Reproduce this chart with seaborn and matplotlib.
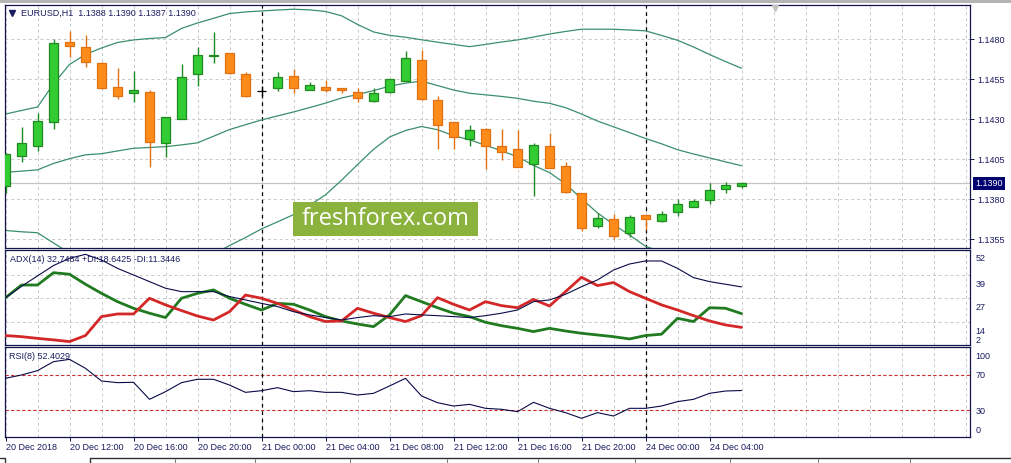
import numpy as np
import pandas as pd
import matplotlib
matplotlib.use("Agg")
import matplotlib.pyplot as plt
from matplotlib.lines import Line2D
from matplotlib.patches import Rectangle
import seaborn as sns

# ---------------- data (EURUSD H1, 20 Dec 08:00 -> 24 Dec 06:00) ----------------
open_ = [1.13885, 1.14068, 1.14135, 1.14281, 1.14781, 1.14750, 1.14650, 1.14500, 1.14463, 1.14469,
         1.14150, 1.14300, 1.14581, 1.14696, 1.14713, 1.14581, 1.14480, 1.14494, 1.14571, 1.14483,
         1.14500, 1.14494, 1.14469, 1.14416, 1.14469, 1.14541, 1.14671, 1.14421, 1.14281, 1.14177,
         1.14238, 1.14133, 1.14114, 1.14019, 1.14133, 1.14010, 1.13838, 1.13635, 1.13675, 1.13588,
         1.13702, 1.13666, 1.13719, 1.13754, 1.13798, 1.13866, 1.13880]
high = [1.14090, 1.14254, 1.14338, 1.14802, 1.14852, 1.14827, 1.14660, 1.14619, 1.14602, 1.14483,
        1.14316, 1.14646, 1.14750, 1.14844, 1.14713, 1.14598, 1.14510, 1.14594, 1.14613, 1.14531,
        1.14546, 1.14497, 1.14494, 1.14494, 1.14550, 1.14727, 1.14733, 1.14448, 1.14281, 1.14264,
        1.14248, 1.14238, 1.14233, 1.14150, 1.14216, 1.14035, 1.13838, 1.13713, 1.13706, 1.13702,
        1.13702, 1.13727, 1.13802, 1.13802, 1.13900, 1.13906, 1.13900]
low = [1.13839, 1.14035, 1.14102, 1.14238, 1.14691, 1.14629, 1.14490, 1.14427, 1.14406, 1.14004,
       1.14066, 1.14300, 1.14510, 1.14650, 1.14581, 1.14441, 1.14446, 1.14479, 1.14466, 1.14483,
       1.14469, 1.14463, 1.14410, 1.14410, 1.14463, 1.14541, 1.14421, 1.14113, 1.14114, 1.14135,
       1.13988, 1.14046, 1.14004, 1.13821, 1.13994, 1.13838, 1.13602, 1.13623, 1.13550, 1.13563,
       1.13608, 1.13656, 1.13698, 1.13754, 1.13769, 1.13838, 1.13870]
close = [1.14083, 1.14150, 1.14289, 1.14775, 1.14760, 1.14660, 1.14494, 1.14448, 1.14483, 1.14160,
         1.14313, 1.14566, 1.14702, 1.14700, 1.14591, 1.14448, 1.14480, 1.14563, 1.14494, 1.14514,
         1.14481, 1.14481, 1.14431, 1.14463, 1.14550, 1.14681, 1.14427, 1.14264, 1.14188, 1.14233,
         1.14135, 1.14098, 1.14004, 1.14139, 1.13998, 1.13848, 1.13623, 1.13685, 1.13573, 1.13688,
         1.13675, 1.13706, 1.13769, 1.13789, 1.13856, 1.13888, 1.13900]

bb_upper = [1.14333, 1.14355, 1.14377, 1.14521, 1.14643, 1.14705, 1.14746, 1.14780, 1.14796, 1.14805,
            1.14811, 1.14868, 1.14902, 1.14931, 1.14961, 1.14971, 1.14977, 1.14983, 1.14988, 1.14984,
            1.14974, 1.14947, 1.14893, 1.14846, 1.14825, 1.14813, 1.14797, 1.14782, 1.14768, 1.14754,
            1.14768, 1.14783, 1.14796, 1.14814, 1.14833, 1.14849, 1.14863, 1.14863, 1.14863, 1.14858,
            1.14853, 1.14824, 1.14794, 1.14752, 1.14705, 1.14661, 1.14619]
bb_mid = [1.13969, 1.13976, 1.13984, 1.14024, 1.14054, 1.14078, 1.14085, 1.14102, 1.14119, 1.14124,
          1.14129, 1.14140, 1.14153, 1.14194, 1.14236, 1.14266, 1.14296, 1.14321, 1.14346, 1.14373,
          1.14401, 1.14433, 1.14455, 1.14479, 1.14507, 1.14526, 1.14539, 1.14511, 1.14483, 1.14463,
          1.14453, 1.14443, 1.14431, 1.14413, 1.14400, 1.14373, 1.14333, 1.14289, 1.14253, 1.14217,
          1.14180, 1.14147, 1.14110, 1.14083, 1.14059, 1.14034, 1.14010]
bb_lower = [1.13605, 1.13597, 1.13591, 1.13527, 1.13465, 1.13451, 1.13424, 1.13424, 1.13442, 1.13443,
            1.13447, 1.13412, 1.13404, 1.13457, 1.13511, 1.13561, 1.13615, 1.13659, 1.13704, 1.13762,
            1.13828, 1.13919, 1.14017, 1.14112, 1.14189, 1.14230, 1.14255, 1.14235, 1.14198, 1.14172,
            1.14138, 1.14103, 1.14066, 1.14012, 1.13967, 1.13897, 1.13803, 1.13715, 1.13643, 1.13576,
            1.13507, 1.13470, 1.13426, 1.13414, 1.13413, 1.13407, 1.13401]

adx = [27.0, 33.0, 38.5, 44.0, 47.8, 49.9, 46.9, 42.5, 39.0, 35.5,
       32.0, 30.2, 30.2, 30.2, 27.6, 25.8, 24.0, 22.3, 19.6, 17.9,
       16.5, 15.2, 16.5, 17.5, 17.0, 18.4, 17.9, 17.5, 17.0, 16.5,
       17.5, 18.8, 20.5, 24.9, 25.8, 28.8, 32.8, 36.4, 41.6, 44.8,
       46.4, 46.4, 42.5, 37.6, 35.5, 34.1, 32.7]
plus_di = [27.0, 33.7, 33.7, 40.2, 39.4, 34.1, 29.3, 24.9, 21.4, 18.8,
           16.5, 26.7, 29.3, 31.1, 26.7, 23.5, 20.5, 24.0, 23.5, 20.5,
           17.0, 14.7, 13.1, 11.7, 17.9, 28.1, 24.9, 21.7, 18.8, 17.0,
           14.0, 12.2, 10.8, 9.1, 10.8, 9.4, 8.2, 7.3, 6.4, 5.2,
           7.0, 7.7, 16.1, 14.4, 21.7, 21.4, 18.6]
minus_di = [7.0, 6.4, 5.5, 4.7, 3.8, 7.0, 17.0, 18.4, 18.4, 26.7,
            23.2, 20.2, 17.3, 15.2, 19.6, 28.4, 26.7, 24.0, 20.5, 17.0,
            14.4, 14.7, 21.4, 18.8, 16.5, 14.4, 17.5, 27.0, 23.5, 20.5,
            24.9, 22.8, 21.7, 26.1, 22.6, 30.2, 37.8, 33.4, 35.0, 30.2,
            26.7, 23.2, 20.5, 17.5, 14.7, 12.6, 11.3]
rsi = [66.2, 70.0, 74.9, 85.1, 87.7, 77.5, 63.2, 61.3, 61.7, 42.4,
       51.1, 61.3, 65.1, 65.1, 58.6, 50.3, 52.2, 55.6, 51.1, 52.2,
       50.3, 50.3, 47.3, 49.2, 57.5, 66.2, 46.2, 38.6, 34.8, 36.7,
       32.2, 31.1, 28.4, 39.0, 32.2, 27.3, 20.9, 27.3, 23.5, 32.2,
       32.2, 34.8, 39.8, 42.4, 49.2, 51.8, 52.4]

tick_labels = ["20 Dec 2018", "20 Dec 12:00", "20 Dec 16:00", "20 Dec 20:00", "21 Dec 00:00",
               "21 Dec 04:00", "21 Dec 08:00", "21 Dec 12:00", "21 Dec 16:00", "21 Dec 20:00",
               "24 Dec 00:00", "24 Dec 04:00"]
tick_bars = [0, 4, 8, 12, 16, 20, 24, 28, 32, 36, 40, 44]
day_start_bars = [16, 40]
price_levels = [1.1355, 1.1380, 1.1405, 1.1430, 1.1455, 1.1480]
last_price = 1.1390
adx_grid = [14, 27, 39]
adx_tick_pos = [48.1, 34.4, 22.2, 9.9, 4.65]
adx_tick_lab = ["52", "39", "27", "14", "2"]
rsi_levels = [70, 30]
rsi_tick_pos = [92.6, 70, 30, 8.4]
rsi_tick_lab = ["100", "70", "30", "0"]

# ---------------- style ----------------
sns.set_theme(style="white")
plt.rcParams["font.family"] = ["Liberation Sans", "DejaVu Sans"]
TXT = "#1b1b62"
SPINE = "#14144a"
GRID = "#c8c8c8"
BULL_F, BULL_E = "#33cc33", "#1f8a1f"
BEAR_F, BEAR_E = "#ff8c1a", "#e07010"
BB = "#3a8f6a"
FS = 6.5

W, H = 1011, 463
fig = plt.figure(figsize=(W / 100, H / 100), dpi=100, facecolor="white")


def fbox(l, t, r, b):
    return [l / W, 1 - b / H, (r - l) / W, (b - t) / H]


ax_p = fig.add_axes(fbox(4.5, 5, 970, 248))
ax_a = fig.add_axes(fbox(4.5, 250, 970, 345))
ax_r = fig.add_axes(fbox(4.5, 347, 970, 437))

n = len(open_)
bars = np.arange(n)
o, h, l, c = map(np.asarray, (open_, high, low, close))
XL = (-0.0625, 60.28)

for ax in (ax_p, ax_a, ax_r):
    ax.set_facecolor("white")
    for s in ax.spines.values():
        s.set_color(SPINE)
        s.set_linewidth(0.9)
    for g in range(0, 61, 2):
        ax.axvline(g, color=GRID, lw=0.7, ls=(0, (3, 3)), zorder=0)
    for b in day_start_bars:
        ax.axvline(b, color="black", lw=0.9, ls=(0, (3, 3)), zorder=1.5)

# ---------------- price panel ----------------
for v in price_levels:
    ax_p.axhline(v, color=GRID, lw=0.7, ls=(0, (3, 3)), zorder=0)
ax_p.axhline(last_price, color="#c4c4c4", lw=0.9, zorder=0.5)

bb_df = pd.DataFrame({"bar": bars, "upper": bb_upper, "mid": bb_mid, "lower": bb_lower})
for col in ("upper", "mid", "lower"):
    sns.lineplot(data=bb_df, x="bar", y=col, ax=ax_p, color=BB, lw=0.9, legend=False, zorder=2)

fills, edges, wicks = [], [], []
for oo, cc in zip(o, c):
    if cc > oo:
        fills.append(BULL_F); edges.append(BULL_E); wicks.append(BULL_E)
    elif cc < oo:
        fills.append(BEAR_F); edges.append(BEAR_E); wicks.append(BEAR_E)
    else:
        fills.append("black"); edges.append("black"); wicks.append("black")
ax_p.vlines(bars, l, h, colors=wicks, lw=1.0, zorder=3)
ax_p.bar(bars, c - o, bottom=o, width=0.62, color=fills, edgecolor=edges, linewidth=0.9, zorder=4)

ax_p.set_xlim(*XL)
ax_p.set_ylim(1.134956, 1.150144)
ax_p.yaxis.tick_right()
ax_p.set_yticks(price_levels)
ax_p.set_yticklabels([f"{v:.4f}" for v in price_levels])
ax_p.tick_params(axis="y", right=True, left=False, length=3, width=0.7, color=SPINE,
                 labelcolor=TXT, labelsize=FS, pad=2)
ax_p.tick_params(axis="x", bottom=False, labelbottom=False)
ax_p.set_xlabel(""); ax_p.set_ylabel("")

# current price box
ax_p.text(1.0055, last_price, f"{last_price:.4f}", transform=ax_p.get_yaxis_transform(),
          ha="left", va="center", color="white", fontsize=FS, clip_on=False, zorder=10,
          bbox=dict(boxstyle="square,pad=0.22", fc="#00006e", ec="none"))

ax_p.text(0.0168, 0.965, "EURUSD,H1  1.1388 1.1390 1.1387 1.1390", transform=ax_p.transAxes,
          ha="left", va="center", color=TXT, fontsize=FS, zorder=10)
ax_p.plot([0.0078], [0.966], marker="v", ms=4, color=TXT, transform=ax_p.transAxes,
          clip_on=False, zorder=10)

# watermark
ax_p.add_patch(Rectangle((0.2988, 0.0494), 0.1916, 0.1399, transform=ax_p.transAxes,
                         fc="#8cb23e", ec="none", zorder=9, clip_on=False))
ax_p.text(0.3946, 0.118, "freshforex.com", transform=ax_p.transAxes, ha="center", va="center",
          color="white", fontsize=17, family=["Open Sans", "DejaVu Sans"], zorder=10)

# ---------------- ADX panel ----------------
for v in adx_grid:
    ax_a.axhline(v, color=GRID, lw=0.7, ls=(0, (3, 3)), zorder=0)
adx_df = pd.DataFrame({"bar": bars, "adx": adx, "plus": plus_di, "minus": minus_di})
sns.lineplot(data=adx_df, x="bar", y="plus", ax=ax_a, color="#207a20", lw=2.0, legend=False, zorder=3)
sns.lineplot(data=adx_df, x="bar", y="minus", ax=ax_a, color="#d42828", lw=2.0, legend=False, zorder=3)
sns.lineplot(data=adx_df, x="bar", y="adx", ax=ax_a, color="#0a0a4a", lw=0.8, legend=False, zorder=4)
ax_a.set_xlim(*XL)
ax_a.set_ylim(2.0, 52.2)
ax_a.yaxis.tick_right()
ax_a.set_yticks(adx_tick_pos)
ax_a.set_yticklabels(adx_tick_lab)
ax_a.tick_params(axis="y", right=True, left=False, length=0, labelcolor=TXT, labelsize=FS, pad=4)
ax_a.tick_params(axis="x", bottom=False, labelbottom=False)
ax_a.set_xlabel(""); ax_a.set_ylabel("")
ax_a.text(0.0057, 0.895, "ADX(14) 32,7484 +DI:18.6425 -DI:11.3446", transform=ax_a.transAxes,
          ha="left", va="center", color=TXT, fontsize=FS, zorder=10)

# ---------------- RSI panel ----------------
for v in rsi_levels:
    ax_r.axhline(v, color="#c83030", lw=0.8, ls=(0, (3, 2)), zorder=1)
rsi_df = pd.DataFrame({"bar": bars, "rsi": rsi})
sns.lineplot(data=rsi_df, x="bar", y="rsi", ax=ax_r, color="#0a0a4a", lw=0.8, legend=False, zorder=3)
ax_r.set_xlim(*XL)
ax_r.set_ylim(-0.3, 101.7)
ax_r.yaxis.tick_right()
ax_r.set_yticks(rsi_tick_pos)
ax_r.set_yticklabels(rsi_tick_lab)
ax_r.tick_params(axis="y", right=True, left=False, length=0, labelcolor=TXT, labelsize=FS, pad=4)
ax_r.set_xticks(tick_bars)
ax_r.set_xticklabels(tick_labels, ha="left")
ax_r.tick_params(axis="x", bottom=True, length=3, width=0.7, color=SPINE, labelcolor=TXT,
                 labelsize=FS, pad=1.5, direction="out")
ax_r.set_xlabel(""); ax_r.set_ylabel("")
ax_r.text(0.0047, 0.889, "RSI(8) 52.4029", transform=ax_r.transAxes,
          ha="left", va="center", color=TXT, fontsize=FS, zorder=10)

# ---------------- window chrome ----------------
fig.add_artist(Rectangle((0, 1 - 2.5 / H), 1, 2.5 / H, transform=fig.transFigure,
                         fc="#b4b4b4", ec="none"))
fig.add_artist(Line2D([775 / W], [1 - 7.5 / H], marker="v", ms=5, color="#c4c4c4",
                      transform=fig.transFigure))
fig.add_artist(Line2D([90 / W, 1], [1 - 457.5 / H] * 2, color="#303030", lw=1.0,
                      transform=fig.transFigure))
fig.add_artist(Line2D([90 / W, 90 / W], [1 - 457.5 / H, 0], color="#303030", lw=1.0,
                      transform=fig.transFigure))
fig.add_artist(Line2D([0, 5 / W, 5 / W], [1 - 458 / H, 1 - 458 / H, 0], color="#303030", lw=1.0,
                      transform=fig.transFigure))
for xd in (175, 255, 350, 447, 538, 635, 730, 818, 910):
    fig.add_artist(Line2D([xd / W, xd / W], [1 - 459 / H, 0], color="#808080", lw=0.8,
                          transform=fig.transFigure))

fig.savefig("out.png", dpi=100, facecolor="white")
